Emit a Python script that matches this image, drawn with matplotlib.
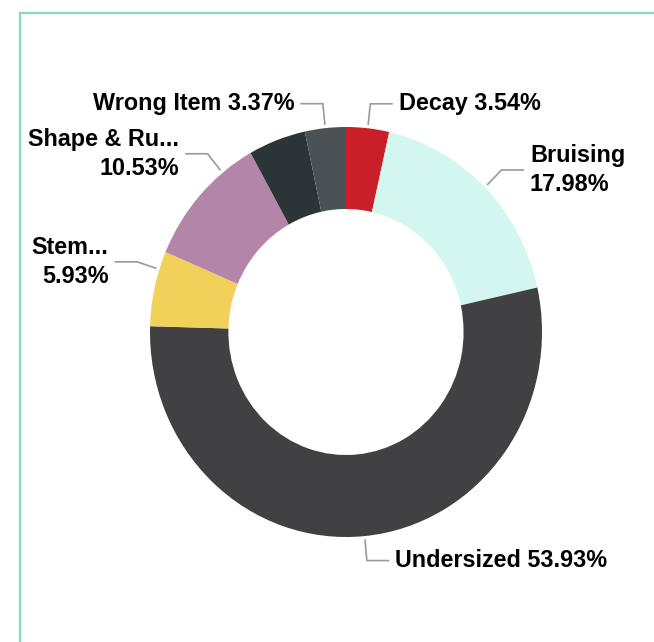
import numpy as np
import matplotlib.pyplot as plt
from matplotlib.lines import Line2D

# NOTE: slice data, clockwise from 12 o'clock
labels = ['Decay', 'Bruising', 'Undersized', 'Stem...', 'Shape & Ru...', 'Other', 'Wrong Item']
values = [3.54, 17.98, 53.93, 5.93, 10.53, 4.72, 3.37]
colors = ['#c81f28', '#d3f6f1', '#414143', '#f2d15a', '#b386a9', '#2b3437', '#4a5255']
show_label = [True, True, True, True, True, False, True]
two_lines = [False, True, False, True, True, False, False]
angle_nudge = [0, 0, 0, -5.5, -9, 0, 0]

W, H = 654, 642
fig = plt.figure(figsize=(W / 100, H / 100), dpi=100)
ax = fig.add_axes([0, 0, 1, 1])

# NOTE: pixel -> data mapping (center 346,332; radii 196 x 205)
cx, cy, rx, ry = 346, 332, 196, 205

wedges, _ = ax.pie(values, colors=colors, startangle=90, counterclock=False,
                   radius=1.0, wedgeprops=dict(width=0.4, linewidth=0))
ax.set_aspect('auto')
ax.set_xlim(-cx / rx, (W - cx) / rx)
ax.set_ylim((cy - H) / ry, cy / ry)
ax.axis('off')

total = sum(values)
start = 90.0
for i, v in enumerate(values):
    ang = start - v / total * 360.0 / 2
    start -= v / total * 360.0
    if not show_label[i]:
        continue
    a = np.deg2rad(ang + angle_nudge[i])
    x0, y0 = 1.02 * np.cos(a), 1.02 * np.sin(a)
    x1, y1 = 1.12 * np.cos(a), 1.12 * np.sin(a)
    side = 1 if np.cos(a) >= 0 else -1
    x2 = x1 + side * 0.11
    ax.plot([x0, x1, x2], [y0, y1, y1], color='#9a9a9a', lw=1.2,
            solid_joinstyle='miter')
    pct = '%.2f%%' % v
    txt = labels[i] + ('\n' if two_lines[i] else ' ') + pct
    ax.text(x2 + side * 0.035, y1, txt, ha='left' if side > 0 else 'right',
            va='center', fontsize=16.8, fontweight='bold',
            family='Liberation Sans', color='black', linespacing=1.32,
            multialignment='left' if side > 0 else 'right')

# NOTE: frame around the card
fc = '#8ad9c7'
fig.add_artist(Line2D([19.5 / W, 19.5 / W], [0, 1 - 12.5 / H], color=fc, lw=1.6))
fig.add_artist(Line2D([19.5 / W, 1], [1 - 12.5 / H, 1 - 12.5 / H], color=fc, lw=1.6))

fig.savefig('out.png', dpi=100)
